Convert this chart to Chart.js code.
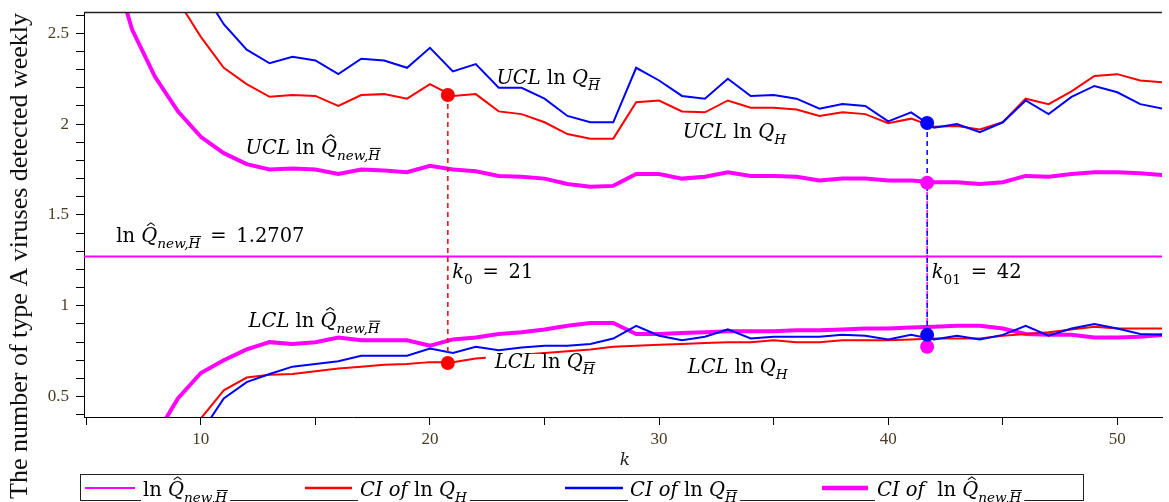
<!DOCTYPE html>
<html>
<head>
<meta charset="utf-8">
<script src="https://cdn.jsdelivr.net/npm/chart.js@4.4.1/dist/chart.umd.min.js"></script>
<style>
  html, body { margin: 0; padding: 0; background: #fff; }
  #chart { display: block; }
</style>
</head>
<body>
<canvas id="chart" width="1169" height="502"></canvas>
<script>
// weeks k and the control limits
const kValues = [5, 6, 7, 8, 9, 10, 11, 12, 13, 14, 15, 16, 17, 18, 19, 20, 21, 22, 23, 24,
  25, 26, 27, 28, 29, 30, 31, 32, 33, 34, 35, 36, 37, 38, 39, 40, 41, 42, 43, 44,
  45, 46, 47, 48, 49, 50, 51, 52];

const uclNew = [3.60, 2.95, 2.52, 2.26, 2.07, 1.93, 1.84, 1.78, 1.75, 1.755,
  1.75, 1.725, 1.75, 1.745, 1.735, 1.77, 1.75, 1.74, 1.715, 1.71,
  1.70, 1.67, 1.655, 1.66, 1.725, 1.725, 1.70, 1.71, 1.735, 1.715,
  1.715, 1.71, 1.69, 1.70, 1.70, 1.69, 1.69, 1.68, 1.68, 1.67,
  1.68, 1.715, 1.71, 1.725, 1.735, 1.735, 1.73, 1.72];
const lclNew = [-0.9, -0.4, 0.0, 0.28, 0.49, 0.63, 0.70, 0.76, 0.80, 0.79,
  0.80, 0.825, 0.81, 0.81, 0.81, 0.78, 0.815, 0.825, 0.845, 0.855,
  0.87, 0.89, 0.905, 0.905, 0.845, 0.845, 0.85, 0.855, 0.86, 0.86,
  0.86, 0.865, 0.865, 0.87, 0.875, 0.875, 0.88, 0.885, 0.89, 0.89,
  0.875, 0.845, 0.84, 0.84, 0.825, 0.825, 0.83, 0.84];

const uclQH = [4.2, 3.7, 3.3, 2.98, 2.68, 2.48, 2.31, 2.22, 2.15, 2.16,
  2.155, 2.10, 2.16, 2.165, 2.14, 2.22, 2.155, 2.165, 2.07, 2.055,
  2.01, 1.945, 1.92, 1.92, 2.12, 2.13, 2.07, 2.065, 2.13, 2.09,
  2.09, 2.08, 2.045, 2.065, 2.055, 2.005, 2.03, 1.985, 1.99, 1.97,
  2.01, 2.14, 2.11, 2.18, 2.265, 2.275, 2.24, 2.23];
const lclQH = [-0.9, -0.55, -0.25, 0.0, 0.2, 0.38, 0.535, 0.605, 0.62, 0.625,
  0.64, 0.655, 0.665, 0.675, 0.68, 0.69, 0.69, 0.71, 0.72, 0.73,
  0.74, 0.75, 0.76, 0.775, 0.78, 0.785, 0.79, 0.795, 0.80, 0.80,
  0.81, 0.80, 0.80, 0.81, 0.81, 0.81, 0.815, 0.82, 0.82, 0.82,
  0.835, 0.845, 0.855, 0.87, 0.885, 0.875, 0.875, 0.875];

const uclQHbar = [4.5, 4.1, 3.75, 3.4, 3.05, 2.75, 2.55, 2.41, 2.335, 2.37,
  2.35, 2.275, 2.36, 2.35, 2.31, 2.42, 2.29, 2.33, 2.20, 2.20,
  2.14, 2.045, 2.01, 2.01, 2.31, 2.24, 2.155, 2.14, 2.25, 2.155,
  2.16, 2.14, 2.085, 2.11, 2.10, 2.015, 2.065, 1.98, 2.0, 1.955,
  2.01, 2.13, 2.055, 2.15, 2.21, 2.175, 2.11, 2.085];
const lclQHbar = [-1.2, -0.85, -0.5, -0.2, 0.07, 0.30, 0.49, 0.58, 0.625, 0.665,
  0.68, 0.695, 0.725, 0.725, 0.725, 0.765, 0.74, 0.775, 0.755, 0.77,
  0.78, 0.78, 0.79, 0.82, 0.89, 0.835, 0.81, 0.83, 0.87, 0.82,
  0.83, 0.83, 0.83, 0.84, 0.835, 0.815, 0.84, 0.815, 0.835, 0.815,
  0.84, 0.89, 0.835, 0.875, 0.90, 0.875, 0.845, 0.84];

const baseLevel = 1.2707;

// first signals: k0 (red pair) and k01 (blue / magenta pairs)
const k0Label = 21, k01Label = 42;
const k0Mark = 20.78, k01Mark = 41.7;
const k0Values = [2.16, 0.685];
const k01BlueValues = [2.006, 0.84];
const k01MagentaValues = [1.677, 0.775];

const xTicks = [5, 10, 15, 20, 25, 30, 35, 40, 45, 50];
const xTickLabels = [10, 20, 30, 40, 50];
const yTicks = [0.4, 0.5, 0.6, 0.7, 0.8, 0.9, 1.0, 1.1, 1.2, 1.3, 1.4, 1.5, 1.6, 1.7,
  1.8, 1.9, 2.0, 2.1, 2.2, 2.3, 2.4, 2.5, 2.6];
const yTickLabels = [0.5, 1, 1.5, 2, 2.5];

const X_MIN = 4.9, X_MAX = 51.95, Y_MIN = 0.388, Y_MAX = 2.617;

const MAGENTA = '#ff00ff', RED = '#ff0000', BLUE = '#0000ff';
const TICK_COLOR = '#4a3b22';
const MATH_FONT = '"DejaVu Serif", serif';
const SERIF = '"Liberation Serif", serif';
const EQ = '\u2002=\u2002';
const TEXT_SIZE = 19.5;

function pts(vals) {
  return kValues.map((k, i) => ({ x: k, y: vals[i] }));
}

function series(label, vals, color, width, order) {
  return {
    label: label, data: pts(vals), borderColor: color, backgroundColor: color,
    borderWidth: width, pointRadius: 0, tension: 0, fill: false, clip: 0, order: order
  };
}

function vline(label, k, vals, color, order) {
  return {
    label: label, data: [{ x: k, y: vals[0] }, { x: k, y: vals[1] }],
    borderColor: color, borderWidth: 1.5, borderDash: [5, 4], pointRadius: 0, order: order
  };
}

function dots(label, k, vals, color) {
  return {
    label: label, data: vals.map(v => ({ x: k, y: v })), showLine: false,
    pointRadius: 7, pointHoverRadius: 7, pointBackgroundColor: color, pointBorderWidth: 0, order: 0
  };
}

// --- small rich text helper (italic, subscripts, hats, bars) ---
function fontOf(p, size) {
  const s = p.sub ? size * 0.7 : size;
  return (p.i ? 'italic ' : '') + s + 'px ' + MATH_FONT;
}

function measureRich(ctx, parts, size) {
  let w = 0;
  for (const p of parts) {
    ctx.font = fontOf(p, size);
    w += ctx.measureText(p.t).width;
  }
  return w;
}

function drawRich(ctx, x, y, parts, size) {
  ctx.fillStyle = '#000';
  ctx.strokeStyle = '#000';
  ctx.textAlign = 'left';
  ctx.textBaseline = 'alphabetic';
  let cx = x;
  for (const p of parts) {
    const s = p.sub ? size * 0.7 : size;
    const yy = p.sub ? y + size * 0.32 : y;
    ctx.font = fontOf(p, size);
    ctx.fillText(p.t, cx, yy);
    const tw = ctx.measureText(p.t).width;
    if (p.bar) {
      ctx.lineWidth = 1;
      ctx.beginPath();
      ctx.moveTo(cx + s * 0.12, yy - s * 0.86);
      ctx.lineTo(cx + tw + s * 0.05, yy - s * 0.86);
      ctx.stroke();
    }
    if (p.hat) {
      const hx = cx + tw * 0.6, top = yy - s * 0.98, hw = s * 0.2;
      ctx.lineWidth = 1.1;
      ctx.beginPath();
      ctx.moveTo(hx - hw, top + s * 0.14);
      ctx.lineTo(hx, top);
      ctx.lineTo(hx + hw, top + s * 0.14);
      ctx.stroke();
    }
    cx += tw;
  }
  return cx - x;
}

function qNew() {
  return [{ t: 'Q', i: true, hat: true }, { t: 'new,', i: true, sub: true }, { t: 'H', i: true, sub: true, bar: true }];
}
function qH(bar) {
  return [{ t: 'Q', i: true }, { t: 'H', i: true, sub: true, bar: bar }];
}
const UCL = { t: 'UCL', i: true }, LCL = { t: 'LCL', i: true }, LN = { t: ' ln ' };

const plotLabels = [
  { k: 22.9, v: 2.221, parts: [UCL, LN].concat(qH(true)) },
  { k: 31.03, v: 1.924, parts: [UCL, LN].concat(qH(false)) },
  { k: 11.95, v: 1.836, parts: [UCL, LN].concat(qNew()) },
  { k: 6.31, v: 1.351, parts: [{ t: 'ln ' }].concat(qNew(), [{ t: EQ + baseLevel.toFixed(4) }]) },
  { k: 12.08, v: 0.885, parts: [LCL, LN].concat(qNew()) },
  { k: 22.83, v: 0.658, parts: [LCL, LN].concat(qH(true)), bg: true },
  { k: 31.25, v: 0.631, parts: [LCL, LN].concat(qH(false)) },
  { k: 20.97, v: 1.154, parts: [{ t: 'k', i: true }, { t: '0', sub: true }, { t: EQ + k0Label }] },
  { k: 41.9, v: 1.154, parts: [{ t: 'k', i: true }, { t: '01', sub: true }, { t: EQ + k01Label }] }
];

const legendItems = [
  { x1: 85, x2: 135, tx: 143, color: MAGENTA, width: 2, parts: [{ t: 'ln ' }].concat(qNew()) },
  { x1: 305, x2: 352, tx: 360, color: RED, width: 2.5, parts: [{ t: 'CI of', i: true }, LN].concat(qH(false)) },
  { x1: 565, x2: 623, tx: 630, color: BLUE, width: 2.5, parts: [{ t: 'CI of', i: true }, LN].concat(qH(true)) },
  { x1: 822, x2: 868, tx: 877, color: MAGENTA, width: 4.5, parts: [{ t: 'CI of', i: true }, { t: '  ln ' }].concat(qNew()) }
];

const mapleText = {
  id: 'mapleText',
  afterDatasetsDraw(chart) {
    const { ctx, chartArea, scales: { x, y } } = chart;
    ctx.save();
    for (const lb of plotLabels) {
      const px = x.getPixelForValue(lb.k), py = y.getPixelForValue(lb.v);
      if (lb.bg) {
        const w = measureRich(ctx, lb.parts, TEXT_SIZE);
        ctx.fillStyle = '#fff';
        ctx.fillRect(px - 9, py - 14, w + 14, 24);
      }
      drawRich(ctx, px, py, lb.parts, TEXT_SIZE);
    }
    // frame line on top of plot
    ctx.strokeStyle = '#222';
    ctx.lineWidth = 1.5;
    ctx.beginPath();
    ctx.moveTo(chartArea.left, chartArea.top + 0.5);
    ctx.lineTo(chartArea.right, chartArea.top + 0.5);
    ctx.stroke();
    ctx.restore();
  },
  afterDraw(chart) {
    const { ctx, chartArea } = chart;
    ctx.save();
    // y title
    const yTitle = 'The number of type A viruses detected weekly';
    ctx.font = '26px ' + SERIF;
    const tw = ctx.measureText(yTitle).width;
    ctx.translate(20, 13 + tw / 2);
    ctx.rotate(-Math.PI / 2);
    ctx.fillStyle = '#111';
    ctx.textAlign = 'center';
    ctx.textBaseline = 'middle';
    ctx.fillText(yTitle, 0, 0);
    ctx.restore();

    // x title
    ctx.save();
    ctx.font = 'italic 17px ' + MATH_FONT;
    ctx.fillStyle = '#222';
    ctx.textAlign = 'center';
    ctx.textBaseline = 'middle';
    ctx.fillText('k', (chartArea.left + chartArea.right) / 2 + 2, 461);

    // legend box
    ctx.strokeStyle = '#222';
    ctx.lineWidth = 1;
    ctx.strokeRect(80.5, 474.5, 1003, 26);
    for (const it of legendItems) {
      ctx.strokeStyle = it.color;
      ctx.lineWidth = it.width;
      ctx.beginPath();
      ctx.moveTo(it.x1, 488);
      ctx.lineTo(it.x2, 488);
      ctx.stroke();
      const w = measureRich(ctx, it.parts, TEXT_SIZE);
      ctx.fillStyle = '#fff';
      ctx.fillRect(it.tx - 2, 477, w + 5, 25);
      drawRich(ctx, it.tx, 496, it.parts, TEXT_SIZE);
    }
    ctx.restore();
  }
};

new Chart(document.getElementById('chart'), {
  type: 'line',
  data: {
    datasets: [
      dots('k0 points', k0Mark, k0Values, RED),
      dots('k01 blue points', k01Mark, k01BlueValues, BLUE),
      dots('k01 magenta points', k01Mark, k01MagentaValues, MAGENTA),
      vline('k0 line', k0Mark, k0Values, RED, 1),
      vline('k01 blue line', k01Mark, k01BlueValues, BLUE, 1),
      vline('k01 magenta line', k01Mark, k01MagentaValues, MAGENTA, 1),
      series('UCL ln Q_Hbar', uclQHbar, BLUE, 2, 2),
      series('LCL ln Q_Hbar', lclQHbar, BLUE, 2, 2),
      series('UCL ln Q_H', uclQH, RED, 2, 3),
      series('LCL ln Q_H', lclQH, RED, 2, 3),
      series('UCL ln Q_new', uclNew, MAGENTA, 4, 4),
      series('LCL ln Q_new', lclNew, MAGENTA, 4, 4),
      {
        label: 'ln Q_new', data: [{ x: X_MIN, y: baseLevel }, { x: X_MAX, y: baseLevel }],
        borderColor: MAGENTA, borderWidth: 2, pointRadius: 0, clip: 0, order: 5
      }
    ]
  },
  options: {
    responsive: false,
    animation: false,
    events: [],
    layout: { padding: { top: 12, right: 0, bottom: 0, left: 0 } },
    plugins: {
      legend: { display: false },
      tooltip: { enabled: false }
    },
    scales: {
      x: {
        type: 'linear',
        min: X_MIN,
        max: X_MAX,
        afterBuildTicks: s => { s.ticks = xTicks.map(v => ({ value: v })); },
        afterFit: s => { s.height = 85; s.paddingLeft = 0; s.paddingRight = 0; },
        grid: { drawOnChartArea: false, drawTicks: true, tickLength: 8, color: '#000' },
        border: { display: true, color: '#000', width: 1 },
        ticks: {
          autoSkip: false,
          maxRotation: 0,
          padding: 4,
          color: TICK_COLOR,
          font: { family: 'Liberation Serif', size: 17 },
          callback: v => xTickLabels.includes(v) ? String(v) : ''
        }
      },
      y: {
        type: 'linear',
        min: Y_MIN,
        max: Y_MAX,
        afterBuildTicks: s => { s.ticks = yTicks.map(v => ({ value: v })); },
        afterFit: s => { s.width = 84; s.paddingTop = 0; s.paddingBottom = 0; },
        grid: { drawOnChartArea: false, drawTicks: true, tickLength: 8, color: '#000' },
        border: { display: true, color: '#000', width: 1 },
        ticks: {
          autoSkip: false,
          padding: 7,
          color: TICK_COLOR,
          font: { family: 'Liberation Serif', size: 17 },
          callback: v => yTickLabels.some(t => Math.abs(t - v) < 1e-6) ? String(Math.round(v * 10) / 10) : ''
        }
      }
    }
  },
  plugins: [mapleText]
});
</script>
</body>
</html>
